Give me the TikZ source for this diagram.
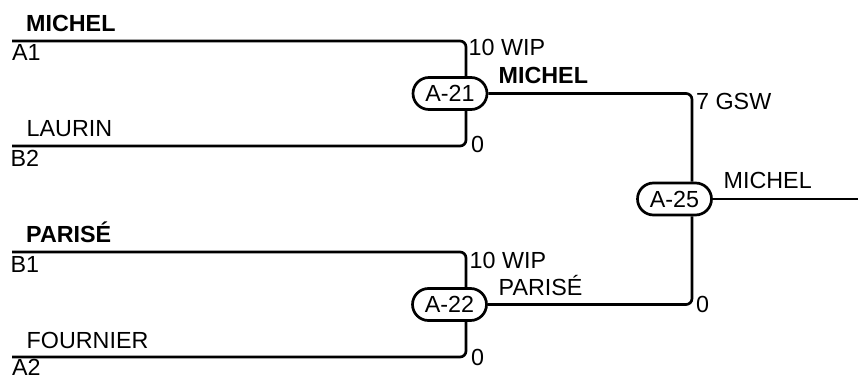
\documentclass[tikz,border=0pt]{standalone}
\usepackage{fontspec}
\setmainfont{Liberation Sans}
\usetikzlibrary{shapes.misc}
\begin{document}
\begin{tikzpicture}[x=1pt,y=-1pt,
  lbl/.style={anchor=base west,inner sep=0pt,font=\fontsize{23.3}{28}\selectfont},
  blbl/.style={lbl,font=\fontsize{23.3}{28}\selectfont\bfseries},
  game/.style={rounded rectangle,draw,fill=white,line width=2.7pt,minimum width=74pt,minimum height=32pt,inner sep=0pt,font=\fontsize{23.3}{28}\selectfont},
  wire/.style={line width=2.7pt,rounded corners=6pt}]
\useasboundingbox (0,0) rectangle (858,379);
% matches
\node[game] (a21) at (450,93.5) {A-21};
\node[game] (a22) at (449.5,304.5) {A-22};
\node[game] (a25) at (674.5,199) {A-25};
% line coordinates
\coordinate (pA1) at (12,41);
\coordinate (kA1) at (466,41);
\coordinate (pB2) at (12,146);
\coordinate (kB2) at (466,146);
\coordinate (pB1) at (12,252);
\coordinate (kB1) at (466,252);
\coordinate (pA2) at (12,357);
\coordinate (kA2) at (466,357);
\coordinate (kR) at (692,0);
\coordinate (edge) at (858,0);
% connectors
\draw[wire] (pA1) -- (kA1) -- (kA1 |- a21.north);
\draw[wire] (pB2) -- (kB2) -- (kB2 |- a21.south);
\draw[wire] (pB1) -- (kB1) -- (kB1 |- a22.north);
\draw[wire] (pA2) -- (kA2) -- (kA2 |- a22.south);
\draw[wire] (a21.east) -- (a21.east -| kR) -- (kR |- a25.north);
\draw[wire] (a22.east) -- (a22.east -| kR) -- (kR |- a25.south);
\draw[wire] (a25.east) -- (a25.east -| edge);
% left labels
\node[blbl] (tMichel) at (26,31.5) {MICHEL};
\node[lbl] (tA1) at (12,61) {A1};
\node[lbl] (tLaurin) at (26.5,136.5) {LAURIN};
\node[lbl] (tB2) at (10.5,166.5) {B2};
\node[blbl] (tParise) at (26,242) {PARISÉ};
\node[lbl] (tB1) at (10.5,272) {B1};
\node[lbl] (tFournier) at (26.5,348) {FOURNIER};
\node[lbl] (tA2) at (12,375) {A2};
% score and winner labels
\node[lbl] (s1) at (468.5,56) {10 WIP};
\node[lbl] (s2) at (471,153) {0};
\node[blbl] (w21) at (498.5,84) {MICHEL};
\node[lbl] (s3) at (696,110) {7 GSW};
\node[lbl] (w25) at (723.5,189) {MICHEL};
\node[lbl] (s4) at (469.5,268) {10 WIP};
\node[lbl] (w22) at (498.5,295) {PARISÉ};
\node[lbl] (s5) at (696,312) {0};
\node[lbl] (s6) at (471,365) {0};
\end{tikzpicture}
\end{document}
